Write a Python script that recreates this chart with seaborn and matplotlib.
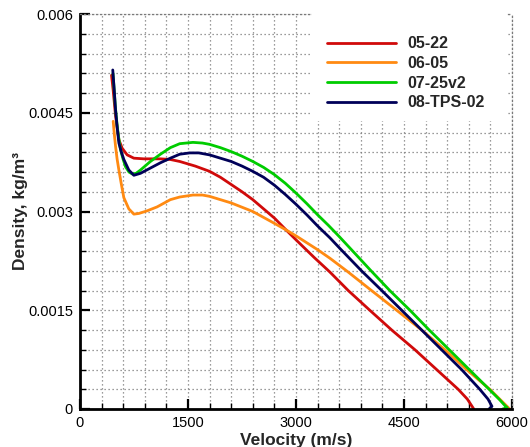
import numpy as np
import pandas as pd
import matplotlib
matplotlib.use("Agg")
import matplotlib.pyplot as plt
import seaborn as sns
from matplotlib.ticker import MultipleLocator, FixedLocator, FixedFormatter
from matplotlib.patches import Rectangle
from matplotlib.lines import Line2D

# ---------------- data ----------------
cases = ["05-22", "06-05", "07-25v2", "08-TPS-02"]
colors = ["#d00a0a", "#ff8a12", "#00cc00", "#000058"]

v_0522 = [438, 460, 494, 540, 586, 655, 748, 886, 1117, 1255, 1385, 1600, 1800, 1950, 2100,
          2250, 2400, 2550, 2700, 2862, 3000, 3254, 3471, 3725, 4025, 4329, 4652, 4952, 5252,
          5380, 5469]
rho_0522 = [0.00507, 0.00485, 0.00445, 0.00409, 0.00396, 0.00386, 0.00381, 0.00380, 0.00380,
            0.00379, 0.00376, 0.00369, 0.00361, 0.00352, 0.00341, 0.00330, 0.00318, 0.00304,
            0.00290, 0.00272, 0.00257, 0.00230, 0.00208, 0.00180, 0.00150, 0.00120, 0.00090,
            0.00060, 0.00030, 0.00015, 0.0]

v_0605 = [461, 477, 494, 515, 540, 575, 609, 678, 748, 817, 932, 1071, 1255, 1385, 1569, 1700,
          1800, 2100, 2400, 2700, 2862, 3000, 3300, 3471, 3725, 4048, 4398, 4745, 5068, 5368,
          5691, 5829, 5968]
rho_0605 = [0.00437, 0.00417, 0.00399, 0.00380, 0.00363, 0.00341, 0.00321, 0.00304, 0.00296,
            0.00297, 0.00301, 0.00307, 0.00318, 0.00322, 0.00325, 0.00325, 0.00323, 0.00313,
            0.00300, 0.00282, 0.00272, 0.00263, 0.00242, 0.00229, 0.00208, 0.00180, 0.00150,
            0.00120, 0.00090, 0.00060, 0.00030, 0.00015, 0.0]

v_0725 = [458, 471, 490, 517, 540, 563, 597, 632, 680, 725, 780, 840, 978, 1117, 1255, 1385,
          1569, 1700, 1800, 1950, 2100, 2250, 2400, 2550, 2700, 2850, 3000, 3150, 3300, 3450,
          3600, 3770, 4033, 4302, 4583, 4850, 5128, 5405, 5682, 5829, 5912, 5935, 5870]
rho_0725 = [0.00510, 0.00490, 0.00460, 0.00429, 0.00410, 0.00394, 0.00380, 0.00368, 0.00360,
            0.00357, 0.00358, 0.00363, 0.00376, 0.00387, 0.00397, 0.00403, 0.00405, 0.00404,
            0.00402, 0.00397, 0.00391, 0.00384, 0.00376, 0.00367, 0.00356, 0.00343, 0.00328,
            0.00312, 0.00295, 0.00279, 0.00262, 0.00242, 0.00211, 0.00180, 0.00150, 0.00120,
            0.00090, 0.00060, 0.00030, 0.00014, 0.00004, 0.00002, 0.0]

v_08tps = [455, 475, 494, 517, 540, 575, 609, 678, 748, 840, 978, 1117, 1255, 1385, 1523, 1650,
           1800, 1950, 2100, 2250, 2400, 2550, 2700, 2850, 3000, 3150, 3300, 3471, 3609, 3909,
           4191, 4468, 4745, 5022, 5299, 5552, 5667, 5722, 5681]
rho_08tps = [0.00515, 0.00485, 0.00454, 0.00427, 0.00404, 0.00390, 0.00379, 0.00363, 0.00355,
             0.00358, 0.00366, 0.00374, 0.00381, 0.00387, 0.00389, 0.00389, 0.00386, 0.00381,
             0.00376, 0.00369, 0.00361, 0.00352, 0.00340, 0.00326, 0.00311, 0.00295, 0.00278,
             0.00260, 0.00244, 0.00210, 0.00180, 0.00150, 0.00120, 0.00090, 0.00060, 0.00030,
             0.00015, 0.00004, 0.0]

x_ticks = [0, 1500, 3000, 4500, 6000]
x_tick_labels = ["0", "1500", "3000", "4500", "6000"]
y_ticks = [0, 0.0015, 0.003, 0.0045, 0.006]
y_tick_labels = ["0", "0.0015", "0.003", "0.0045", "0.006"]

series = {
    "05-22": (v_0522, rho_0522),
    "06-05": (v_0605, rho_0605),
    "07-25v2": (v_0725, rho_0725),
    "08-TPS-02": (v_08tps, rho_08tps),
}
frames = []
for name in cases:
    vv, rr = series[name]
    frames.append(pd.DataFrame({"v": vv, "rho": rr, "case": name}))
df = pd.concat(frames, ignore_index=True)

# ---------------- plot ----------------
sns.set_theme(style="white")
plt.rcParams["font.family"] = ["Liberation Sans", "DejaVu Sans"]

fig = plt.figure(figsize=(5.30, 4.47), dpi=100)
ax = fig.add_axes([80 / 530, 38 / 447, 432 / 530, 395 / 447])

sns.lineplot(data=df, x="v", y="rho", hue="case", hue_order=cases,
             palette=dict(zip(cases, colors)), sort=False, estimator=None,
             linewidth=2, ax=ax, legend=False, zorder=2)
for ln in ax.get_lines():
    ln.set_solid_joinstyle("round")

ax.set_xlim(0, 6000)
ax.set_ylim(0, 0.006)

ax.xaxis.set_major_locator(FixedLocator(x_ticks))
ax.xaxis.set_major_formatter(FixedFormatter(x_tick_labels))
ax.yaxis.set_major_locator(FixedLocator(y_ticks))
ax.yaxis.set_major_formatter(FixedFormatter(y_tick_labels))
ax.xaxis.set_minor_locator(MultipleLocator(300))
ax.yaxis.set_minor_locator(MultipleLocator(0.0003))

ax.set_axisbelow(True)
ax.grid(which="both", linestyle=(0, (1, 2.2)), color="#7a7a7a", linewidth=0.9)

ax.tick_params(which="major", direction="in", length=7, width=1.6, labelsize=10.5,
               pad=5, colors="black", top=False, right=False, bottom=True, left=True)
ax.tick_params(which="minor", direction="in", length=4, width=1.0, colors="black",
               top=False, right=False, bottom=True, left=True)

for s in ["left", "bottom"]:
    ax.spines[s].set_color("black")
    ax.spines[s].set_linewidth(2)
for s in ["top", "right"]:
    ax.spines[s].set_color("#7a7a7a")
    ax.spines[s].set_linewidth(0.9)
    ax.spines[s].set_linestyle((0, (1, 2.2)))

ax.set_xlabel("Velocity (m/s)", fontsize=12.5, fontweight="bold", labelpad=2)
ax.set_ylabel("Density, kg/m³", fontsize=12.5, fontweight="bold", labelpad=0)

# white area behind the legend
ax.add_patch(Rectangle((0.537, 0.729), 0.452, 0.29, transform=ax.transAxes,
                       facecolor="white", edgecolor="none", zorder=3, clip_on=False))

handles = [Line2D([], [], color=c, linewidth=2) for c in colors]
leg = ax.legend(handles, cases, loc="upper left", bbox_to_anchor=(0.572, 0.944),
                frameon=False, prop={"weight": "bold", "size": 11.5},
                handlelength=4.3, handletextpad=0.75, labelspacing=0.3,
                borderpad=0, borderaxespad=0)
leg.set_zorder(4)

fig.savefig("out.png", dpi=100)
